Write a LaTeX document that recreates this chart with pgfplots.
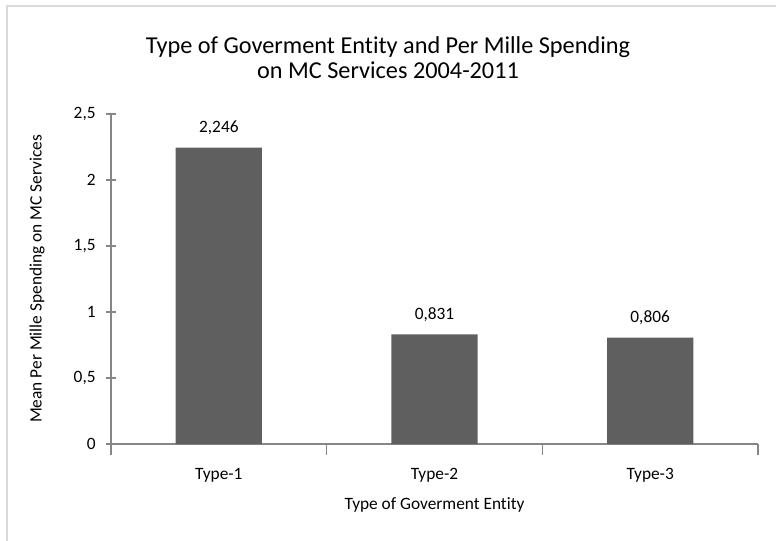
\documentclass[border=0pt]{standalone}
\usepackage{fontspec}
\setmainfont{Carlito}[Ligatures=NoCommon]
\usepackage{pgfplots}
\pgfplotsset{compat=1.18}
\definecolor{barc}{HTML}{5F5F5F}
\definecolor{axc}{HTML}{868686}
\definecolor{framec}{HTML}{D9D9D9}
\begin{document}
\begin{tikzpicture}[x=1pt,y=1pt]
\useasboundingbox (0,0) rectangle (582,405);
\draw[framec, line width=1.5pt] (5.25,-5) -- (5.25,400.5) -- (590,400.5);
\node[align=center, font=\fontsize{18.2}{18.75}\selectfont] at (291,362) {Type of Goverment Entity and Per Mille Spending\\on MC Services 2004-2011};
\begin{axis}[
  at={(83.25pt,72pt)}, anchor=south west,
  scale only axis, width=485.25pt, height=247.5pt,
  xmin=-0.5, xmax=2.5, ymin=0, ymax=2.5,
  axis x line=bottom, axis y line=left,
  axis line style={axc, line width=0.9pt, -},
  xtick={0,1,2}, xticklabels={Type-1,Type-2,Type-3},
  major x tick style={draw=none},
  minor xtick={-0.5,0.5,1.5,2.5},
  minor x tick style={axc, line width=0.9pt},
  minor tick length=8pt,
  xtick align=center,
  ytick={0,0.5,1,1.5,2,2.5},
  ytick align=center,
  major y tick style={axc, line width=0.9pt},
  major tick length=8pt,
  ticklabel style={font=\fontsize{13}{15}\selectfont, text=black},
  x tick label style={yshift=-7pt},
  y tick label style={xshift=-4pt},
  /pgf/number format/assume math mode=true,
  /pgf/number format/use comma,
  xlabel={Type of Goverment Entity},
  xlabel style={font=\fontsize{13}{15}\selectfont, yshift=-4pt},
  ylabel={Mean Per Mille Spending on MC Services},
  ylabel style={font=\fontsize{13}{15}\selectfont, yshift=15pt},
  ybar, bar width=0.4,
  nodes near coords,
  nodes near coords style={font=\fontsize{13}{15}\selectfont, text=black, yshift=6pt,
    /pgf/number format/fixed, /pgf/number format/fixed zerofill, /pgf/number format/precision=3,
    /pgf/number format/use comma},
  clip=false,
]
\addplot[fill=barc, draw=none] coordinates {(0,2.246) (1,0.831) (2,0.806)};
\end{axis}
\end{tikzpicture}
\end{document}
